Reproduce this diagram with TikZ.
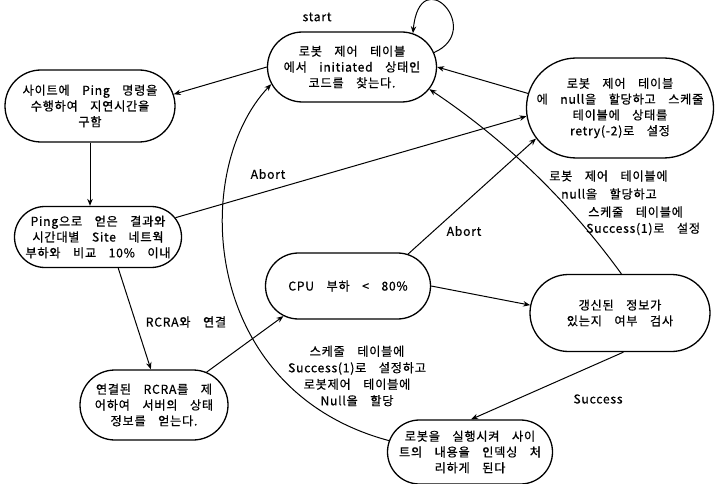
\documentclass[tikz,border=0pt]{standalone}
\usepackage{fontspec}
\setmainfont{Noto Sans CJK KR}[WordSpace=3.6,LetterSpace=6,FakeBold=0.6]
\usetikzlibrary{shapes.misc,arrows.meta}

\tikzset{
  state/.style={rounded rectangle, draw, line width=1.3pt, align=center,
    inner sep=0pt, font=\fontsize{12.2}{15.8}\selectfont},
  conn/.style={line width=1pt, -{Stealth[length=7pt,width=5.5pt]}},
  lbl/.style={font=\fontsize{12.2}{16.5}\selectfont, align=center, inner sep=0pt},
  lblw/.style={lbl, anchor=west},
}

\begin{document}
\begin{tikzpicture}[x=1pt,y=-1pt]
\useasboundingbox (0,0) rectangle (715,484);

% states
\node[state, minimum width=169pt, minimum height=70pt] (T) at (352,67)
  {로봇 제어 테이블\\에서 initiated 상태인\\코드를 찾는다.};
\node[state, minimum width=170pt, minimum height=72pt] (L1) at (90,106)
  {사이트에 Ping 명령을\\수행하여 지연시간을\\구함};
\node[state, minimum width=185pt, minimum height=100pt] (R) at (620,108)
  {로봇 제어 테이블\\에 null을 할당하고 스케줄\\테이블에 상태를\\retry(-2)로 설정};
\node[state, minimum width=167pt, minimum height=61pt] (L2) at (98,237)
  {Ping으로 얻은 결과와\\시간대별 Site 네트웍\\부하와 비교 10\% 이내};
\node[state, minimum width=165pt, minimum height=66pt] (CPU) at (348,286)
  {CPU 부하 < 80\%};
\node[state, minimum width=180pt, minimum height=77pt] (G) at (620,313)
  {갱신된 정보가\\있는지 여부 검사};
\node[state, minimum width=148pt, minimum height=70pt] (L3) at (154,405)
  {연결된 RCRA를 제\\어하여 서버의 상태\\정보를 얻는다.};
\node[state, minimum width=165pt, minimum height=64pt] (B) at (470,452)
  {로봇을 실행시켜 사이\\트의 내용을 인덱싱 처\\리하게 된다};

% transitions
\draw[conn] (T.10) .. controls (485,30) and (420,-40) .. (T.29);
\node[lbl] (startlbl) at (317,17) {start};

\draw[conn] (T.west) -- (L1.8);
\draw[conn] (L1.south) -- (L1.south |- L2.north);

\draw[conn] (L2.14) -- (R.185);
\node[lbl] (abort1) at (268,174) {Abort};

\draw[conn] (L2.-57) -- (L3.95);
\node[lbl] (rcra) at (186,322) {RCRA와 연결};

\draw[conn] (L3.32) -- (CPU.205);

\draw[conn] (CPU.28) -- (R.200);
\node[lbl] (abort2) at (464,231) {Abort};

\draw[conn] (CPU.east) -- (G.175);

\draw[conn] (R.171) -- (T.east);

\draw[conn] (G.88) .. controls (570,203) and (507,141) .. (T.-16);
\node[lblw] (gl1) at (549,176) {로봇 제어 테이블에};
\node[lblw] (gl2) at (561,194) {null을 할당하고};
\node[lblw] (gl3) at (588,212) {스케줄 테이블에};
\node[lblw] (gl4) at (586,229) {Success(1)로 설정};

\draw[conn] (G.-85) -- (B.88);
\node[lbl] (succ) at (598,399) {Success};

\draw[conn] (B.172) .. controls (200,390) and (190,170) .. (T.192);
\node[lbl] (blbl) at (357,376)
  {스케줄 테이블에\\Success(1)로 설정하고\\로봇제어 테이블에\\Null을 할당};
\end{tikzpicture}
\end{document}
